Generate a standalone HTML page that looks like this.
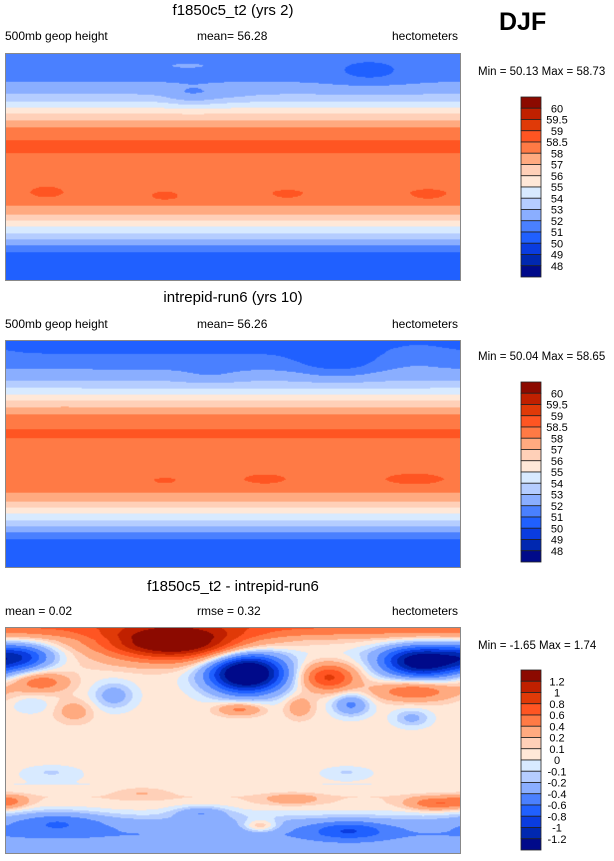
<!DOCTYPE html>
<html><head><meta charset="utf-8">
<style>
body{margin:0;background:#fff;width:614px;height:861px;position:relative;overflow:hidden;font-family:"Liberation Sans",Arial,sans-serif;}
.t{position:absolute;white-space:nowrap;color:#000;}
canvas{position:absolute;border:1px solid #888;box-sizing:border-box;}
svg{position:absolute;left:0;top:0;}
</style></head><body>
<div class="t" style="left:0;width:466px;text-align:center;top:2px;font-size:15px">f1850c5_t2 (yrs 2)</div>
<div class="t" style="left:499px;top:8px;font-size:25px;font-weight:bold">DJF</div>
<div class="t" style="left:5px;top:29px;font-size:12px">500mb geop height</div>
<div class="t" style="left:197px;top:29px;font-size:12px">mean=  56.28</div>
<div class="t" style="left:392px;top:29px;font-size:12px">hectometers</div>
<div class="t" style="left:478px;top:66px;font-size:11.5px">Min =  50.13 Max =  58.73</div>

<div class="t" style="left:0;width:466px;text-align:center;top:289px;font-size:15px">intrepid-run6 (yrs 10)</div>
<div class="t" style="left:5px;top:317px;font-size:12px">500mb geop height</div>
<div class="t" style="left:197px;top:317px;font-size:12px">mean=  56.26</div>
<div class="t" style="left:392px;top:317px;font-size:12px">hectometers</div>
<div class="t" style="left:478px;top:351px;font-size:11.5px">Min =  50.04 Max =  58.65</div>

<div class="t" style="left:0;width:466px;text-align:center;top:578px;font-size:15px">f1850c5_t2 - intrepid-run6</div>
<div class="t" style="left:5px;top:604px;font-size:12px">mean =  0.02</div>
<div class="t" style="left:197px;top:604px;font-size:12px">rmse =  0.32</div>
<div class="t" style="left:392px;top:604px;font-size:12px">hectometers</div>
<div class="t" style="left:478px;top:640px;font-size:11.5px">Min =  -1.65 Max =   1.74</div>

<canvas id="m1" width="456" height="228" style="left:5px;top:53px;width:456px;height:228px"></canvas>
<canvas id="m2" width="456" height="228" style="left:5px;top:340px;width:456px;height:228px"></canvas>
<canvas id="m3" width="456" height="227" style="left:5px;top:627px;width:456px;height:227px"></canvas>
<svg id="cb" width="614" height="861"></svg>

<script>
const colors=["#8c0a00","#c02000","#e03a08","#ff5522","#ff7a45","#ffaa80","#ffd0b8","#ffe8d8","#d8eaff","#b5cdff","#8aaeff","#4a80ff","#2060ff","#0a3ce0","#0028b0","#000a8a"];
const levelsAbs=[60,59.5,59,58.5,58,57,56,55,54,53,52,51,50,49,48];
const levelsDiff=[1.2,1,0.8,0.6,0.4,0.2,0.1,0,-0.1,-0.2,-0.4,-0.6,-0.8,-1,-1.2];
const labelsAbs=["60","59.5","59","58.5","58","57","56","55","54","53","52","51","50","49","48"];
const labelsDiff=["1.2","1","0.8","0.6","0.4","0.2","0.1","0","-0.1","-0.2","-0.4","-0.6","-0.8","-1","-1.2"];
// zonal mean profiles, lat 90 -> -90 step 5
const zonal1=[51.5,51.5,51.6,51.7,51.8,52.3,52.7,53.5,54.5,55.5,56.5,57.5,58.2,58.3,58.55,58.7,58.45,58.3,58.3,58.3,58.3,58.3,58.35,58.3,58.1,57.5,56.5,55.5,54.5,53.5,52.5,51.5,50.7,50.6,50.6,50.6,50.6];
const zonal2=[50.9,50.9,51.0,51.3,51.7,52.3,52.8,53.5,54.5,55.5,56.5,57.5,58.2,58.3,58.5,58.6,58.4,58.3,58.3,58.3,58.3,58.3,58.35,58.3,58.1,57.5,56.5,55.5,54.5,53.5,52.5,51.5,50.7,50.6,50.6,50.6,50.6];
const zonal3=[0.6,0.4,0.15,0.05,0.0,0.03,0.06,0.06,0.05,0.05,0.05,0.05,0.05,0.05,0.05,0.05,0.05,0.05,0.05,0.05,0.05,0.05,0.05,0.04,0.02,0.0,0.03,0.1,0.08,0.02,-0.1,-0.25,-0.35,-0.4,-0.35,-0.3,-0.3];
// anomaly blobs: [fx, fy, rx, ry, amplitude]
const blobs1=[[0.41,0.19,0.06,0.045,-1.0],[0.8,0.08,0.1,0.06,-0.9],[0.4,0.05,0.08,0.02,0.5],[0.09,0.61,0.04,0.03,0.35],[0.35,0.63,0.04,0.025,0.3],[0.62,0.62,0.05,0.03,0.25],[0.93,0.62,0.05,0.03,0.3],[0.5,0.19,0.06,0.04,-0.3]];
const blobs2=[[0.73,0.1,0.09,0.07,-1.1],[0.9,0.08,0.08,0.05,0.5],[0.45,0.15,0.07,0.05,-0.5],[0.57,0.61,0.05,0.025,0.35],[0.9,0.61,0.07,0.03,0.35],[0.35,0.62,0.05,0.03,0.2]];
const blobs3=[[0.37,0.07,0.16,0.075,1.5],[0.033,0.13,0.07,0.06,-0.8],[0.916,0.15,0.09,0.07,-1.5],[0.53,0.2,0.085,0.09,-1.8],[0.71,0.22,0.06,0.06,0.8],[0.9,0.28,0.09,0.045,0.55],[0.077,0.24,0.06,0.045,0.5],[0.15,0.37,0.04,0.05,0.25],[0.237,0.3,0.045,0.06,-0.35],[0.76,0.34,0.04,0.05,-0.5],[0.515,0.36,0.05,0.03,0.45],[0.646,0.35,0.03,0.05,0.3],[0.894,0.4,0.04,0.04,-0.3],[0.055,0.34,0.04,0.04,-0.15],[0.113,0.86,0.1,0.05,-0.35],[0.43,0.82,0.06,0.03,-0.35],[0.755,0.9,0.08,0.04,-0.45],[0.945,0.78,0.06,0.03,0.5],[0.01,0.77,0.04,0.03,0.3],[0.56,0.88,0.04,0.03,0.45],[0.63,0.76,0.06,0.025,0.25],[0.3,0.73,0.06,0.025,0.15],[0.75,0.64,0.05,0.025,-0.15],[0.1,0.64,0.06,0.03,-0.15]];

function colorFor(v,levels){for(let i=0;i<levels.length;i++){if(v>=levels[i])return colors[i];}return colors[colors.length-1];}
function hex(c){return [parseInt(c.substr(1,2),16),parseInt(c.substr(3,2),16),parseInt(c.substr(5,2),16)];}
function drawMap(id,zonal,blobs,levels){
  const cv=document.getElementById(id),ctx=cv.getContext('2d'),W=cv.width,H=cv.height;
  const img=ctx.createImageData(W,H);const n=zonal.length-1;
  for(let y=0;y<H;y++){
    const fy=(y+0.5)/H,p=fy*n,i=Math.min(n-1,Math.floor(p)),t=p-i;
    const base=zonal[i]*(1-t)+zonal[i+1]*t;
    for(let x=0;x<W;x++){
      const fx=(x+0.5)/W;let v=base;
      for(const b of blobs){let dx=Math.abs(fx-b[0]);if(dx>0.5)dx=1-dx;const ex=dx/b[2],ey=(fy-b[1])/b[3];v+=b[4]*Math.exp(-(ex*ex+ey*ey));}
      const c=hex(colorFor(v,levels)),k=(y*W+x)*4;
      img.data[k]=c[0];img.data[k+1]=c[1];img.data[k+2]=c[2];img.data[k+3]=255;
    }
  }
  ctx.putImageData(img,0,0);
}
drawMap('m1',zonal1,blobs1,levelsAbs);
drawMap('m2',zonal2,blobs2,levelsAbs);
drawMap('m3',zonal3,blobs3,levelsDiff);

const svg=document.getElementById('cb');const NS='http://www.w3.org/2000/svg';
function colorbar(top,bottom,labels){
  const h=(bottom-top)/colors.length;
  colors.forEach((c,i)=>{
    const r=document.createElementNS(NS,'rect');
    r.setAttribute('x',521);r.setAttribute('y',top+i*h);r.setAttribute('width',20);r.setAttribute('height',h);
    r.setAttribute('fill',c);r.setAttribute('stroke','#222');r.setAttribute('stroke-width','0.8');
    
    
    svg.appendChild(r);
  });
  labels.forEach((l,i)=>{
    const t=document.createElementNS(NS,'text');
    t.setAttribute('x',557);t.setAttribute('y',top+(i+1)*h+4);t.setAttribute('text-anchor','middle');
    t.setAttribute('font-size','11');t.setAttribute('font-family','Liberation Sans, Arial, sans-serif');
    t.textContent=l;
    
    
    svg.appendChild(t);
  });
}
colorbar(97,277,labelsAbs);
colorbar(382,562,labelsAbs);
colorbar(670,850,labelsDiff);
</script>
</body></html>
